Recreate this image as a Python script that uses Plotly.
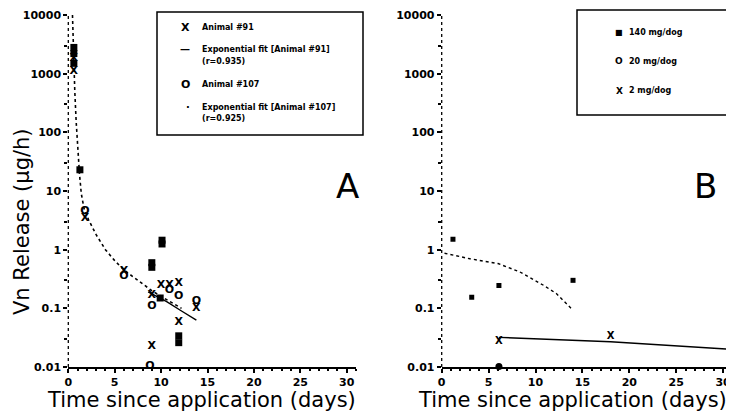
import plotly.graph_objects as go

# ---------------- Panel A data ----------------
a91_days = [0.6, 0.6, 1.8, 6.0, 9.0, 9.0, 10.0, 10.9, 11.9, 11.9, 13.8]
a91_rel = [1800, 1100, 3.5, 0.43, 0.17, 0.023, 0.25, 0.25, 0.27, 0.059, 0.10]
a107_days = [1.8, 6.0, 9.0, 8.8, 10.9, 11.9, 13.8]
a107_rel = [4.5, 0.35, 0.11, 0.0102, 0.2, 0.16, 0.13]
aboth_days = [0.6, 0.6, 0.6, 1.25, 9.0, 9.0, 10.1, 10.1, 9.9, 11.9, 11.9]
aboth_rel = [2800, 2200, 1500, 23, 0.6, 0.5, 1.45, 1.25, 0.15, 0.034, 0.026]
fit107_days = [0.45, 0.55, 0.7, 0.85, 1.0, 1.2, 1.4, 1.7, 2.2, 3.0, 4.0, 5.0, 6.0, 7.0, 8.0, 9.0, 10.0, 11.0, 12.2]
fit107_rel = [10000, 2000, 500, 150, 60, 20, 9, 5, 3.2, 1.8, 1.0, 0.65, 0.45, 0.34, 0.26, 0.2, 0.16, 0.13, 0.1]
fit91_days = [8.6, 10.6, 12.2, 13.8]
fit91_rel = [0.19, 0.13, 0.09, 0.063]

# ---------------- Panel B data ----------------
b140_days = [1.2, 3.2, 6.1, 14.0]
b140_rel = [1.5, 0.155, 0.245, 0.30]
b20_days = [6.1]
b20_rel = [0.0102]
b2_days = [6.1, 18.0, 30.8]
b2_rel = [0.027, 0.033, 0.016]
fit140_days = [0.3, 3.0, 6.0, 8.3, 10.8, 12.2, 14.0]
fit140_rel = [0.87, 0.70, 0.58, 0.42, 0.25, 0.18, 0.093]
fit2_days = [6.1, 18.0, 31.0]
fit2_rel = [0.032, 0.027, 0.02]

y_tickvals = [0.01, 0.1, 1, 10, 100, 1000, 10000]
y_ticktext = ["0.01", "0.1", "1", "10", "100", "1000", "10000"]
x_tickvals = [0, 5, 10, 15, 20, 25, 30]
x_title = "Time since application (days)"
y_title = "Vn Release (µg/h)"

FONT = "DejaVu Sans"
BOLD = dict(family=FONT, size=11, color="black", weight="bold")

# page body has an 8px margin: figure is shifted, so size it to the remaining viewport
OFF = 8
W, H = 734 - OFF, 412 - OFF

def px(x, y):
    return (x - OFF) / W, 1 - (y - OFF) / H

fig = go.Figure()

def add_txt(xs, ys, ch, xa, ya, size=11):
    fig.add_trace(go.Scatter(x=xs, y=ys, mode="text", text=[ch] * len(xs),
                             textposition="middle center",
                             textfont=dict(family=FONT, size=size, color="black", weight="bold"),
                             xaxis=xa, yaxis=ya, showlegend=False, cliponaxis=False))

# Panel A
fig.add_trace(go.Scatter(x=fit107_days, y=fit107_rel, mode="lines",
                         line=dict(color="black", width=1.6, dash="dot"),
                         xaxis="x", yaxis="y", showlegend=False))
fig.add_trace(go.Scatter(x=fit91_days, y=fit91_rel, mode="lines",
                         line=dict(color="black", width=1.4),
                         xaxis="x", yaxis="y", showlegend=False))
add_txt(a91_days, a91_rel, "X", "x", "y")
add_txt(a107_days, a107_rel, "O", "x", "y")
fig.add_trace(go.Scatter(x=aboth_days, y=aboth_rel, mode="markers",
                         marker=dict(symbol="square", size=7, color="black"),
                         xaxis="x", yaxis="y", showlegend=False, cliponaxis=False))

# Panel B
fig.add_trace(go.Scatter(x=fit140_days, y=fit140_rel, mode="lines",
                         line=dict(color="black", width=1.4, dash="dot"),
                         xaxis="x2", yaxis="y2", showlegend=False))
fig.add_trace(go.Scatter(x=fit2_days, y=fit2_rel, mode="lines",
                         line=dict(color="black", width=1.4),
                         xaxis="x2", yaxis="y2", showlegend=False, cliponaxis=False))
fig.add_trace(go.Scatter(x=b140_days, y=b140_rel, mode="markers",
                         marker=dict(symbol="square", size=5, color="black"),
                         xaxis="x2", yaxis="y2", showlegend=False))
fig.add_trace(go.Scatter(x=b20_days, y=b20_rel, mode="markers",
                         marker=dict(symbol="circle", size=7, color="black"),
                         xaxis="x2", yaxis="y2", showlegend=False, cliponaxis=False))
add_txt(b2_days, b2_rel, "X", "x2", "y2", size=10)

_, yb = px(0, 367)
_, yt = px(0, 15)
xa_dom = [px(68.3, 0)[0], px(356, 0)[0]]
xb_dom = [px(441.7, 0)[0], 1.0]
xb_max = (734 - 441.7) / 9.38

def xaxis_cfg(xmax):
    return dict(range=[0, xmax], tickvals=x_tickvals, ticks="outside", ticklen=4,
                tickwidth=1.5, tickcolor="black", showline=True, linecolor="black",
                linewidth=2, showgrid=False, zeroline=False, tickfont=BOLD,
                automargin=False,
                minor=dict(dtick=1, ticks="outside", ticklen=2, tickcolor="black"))

common_y = dict(type="log", range=[-2, 4], tickvals=y_tickvals, ticktext=y_ticktext,
                ticks="outside", ticklen=4, tickwidth=1.5, tickcolor="black",
                showline=False, showgrid=False, zeroline=False, tickfont=BOLD,
                automargin=False,
                minor=dict(tickvals=[0.03, 0.3, 3, 30, 300, 3000], ticks="outside",
                           ticklen=3, tickcolor="black"))

fig.update_layout(
    width=W, height=H, margin=dict(l=0, r=0, t=0, b=0),
    paper_bgcolor="white", plot_bgcolor="white",
    xaxis=dict(domain=xa_dom, anchor="y", **xaxis_cfg(31.0)),
    yaxis=dict(domain=[yb, yt], anchor="x", **common_y),
    xaxis2=dict(domain=xb_dom, anchor="y2", **xaxis_cfg(xb_max)),
    yaxis2=dict(domain=[yb, yt], anchor="x2", **common_y),
)

# axis titles
TITLE_FONT = dict(family=FONT, size=21, color="black")
for cx in (201, 572):
    tx, ty = px(cx, 400)
    fig.add_annotation(text=x_title, x=tx, y=ty, xref="paper", yref="paper",
                       showarrow=False, xanchor="center", yanchor="middle", font=TITLE_FONT)
tx, ty = px(22, 222)
fig.add_annotation(text=y_title, x=tx, y=ty, xref="paper", yref="paper", textangle=-90,
                   showarrow=False, xanchor="center", yanchor="middle",
                   font=dict(family=FONT, size=21, color="black"))

# dotted-looking y-axis lines
for xr, yr in [("x domain", "y domain"), ("x2 domain", "y2 domain")]:
    fig.add_shape(type="line", xref=xr, yref=yr, x0=0, x1=0, y0=0, y1=1,
                  line=dict(color="black", width=1.3, dash="dot"))

# Panel letters
ax_, ay_ = px(347, 186)
fig.add_annotation(text="A", x=ax_, y=ay_, xref="paper", yref="paper",
                   showarrow=False, font=dict(family=FONT, size=34, color="black"))
bx_, by_ = px(719, 186)
fig.add_annotation(text="B", x=bx_, y=by_, xref="paper", yref="paper",
                   showarrow=False, font=dict(family=FONT, size=34, color="black"))

# Legend A
x0, y0 = px(157, 12)
x1, y1 = px(363, 135)
fig.add_shape(type="rect", xref="paper", yref="paper", x0=x0, y0=y0, x1=x1, y1=y1,
              line=dict(color="black", width=1.5))
legA = [
    (185, 27, "X", 11),
    (200, 27, "Animal #91", 8),
    (185, 50, "—", 10),
    (200, 50, "Exponential fit [Animal #91]", 8),
    (200, 61, "(r=0.935)", 8),
    (185, 85, "O", 11),
    (200, 85, "Animal #107", 8),
    (188, 107, "·", 10),
    (200, 107, "Exponential fit [Animal #107]", 8),
    (200, 118, "(r=0.925)", 8),
]
for xx, yy, t, s in legA:
    ax, ay = px(xx, yy)
    fig.add_annotation(text=t, x=ax, y=ay, xref="paper", yref="paper", showarrow=False,
                       xanchor="left" if xx >= 200 else "center", yanchor="middle",
                       font=dict(family=FONT, size=s, color="black", weight="bold"))

# Legend B
x0, y0 = px(577, 10)
x1, y1 = px(745, 115)
fig.add_shape(type="rect", xref="paper", yref="paper", x0=x0, y0=y0, x1=x1, y1=y1,
              line=dict(color="black", width=1.5))
legB = [
    (619, 32, "■", 8),
    (627, 32, "140 mg/dog", 8),
    (619, 61, "O", 9),
    (627, 61, "20 mg/dog", 8),
    (619, 91, "X", 9),
    (627, 91, "2 mg/dog", 8),
]
for xx, yy, t, s in legB:
    ax, ay = px(xx, yy)
    fig.add_annotation(text=t, x=ax, y=ay, xref="paper", yref="paper", showarrow=False,
                       xanchor="left" if xx >= 627 else "center", yanchor="middle",
                       font=dict(family=FONT, size=s, color="black", weight="bold"))

fig.write_html("out.html")
